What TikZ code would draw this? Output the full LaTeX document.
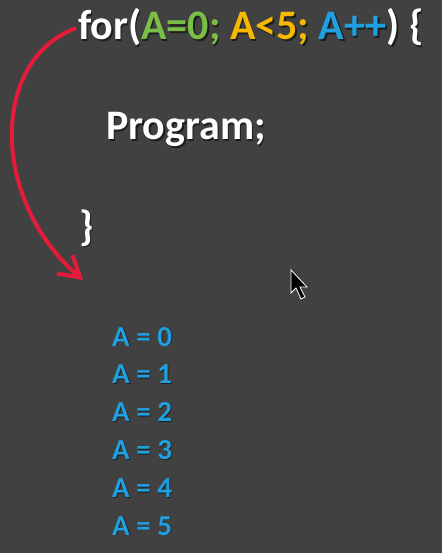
\documentclass[tikz,border=0pt]{standalone}
\usepackage{fontspec}
\setmainfont{Carlito}
\usetikzlibrary{arrows.meta}
\definecolor{bg}{RGB}{65,65,65}
\definecolor{cgreen}{RGB}{122,190,70}
\definecolor{corange}{RGB}{247,184,0}
\definecolor{cblue}{RGB}{30,160,225}
\definecolor{cred}{RGB}{228,28,58}
\definecolor{shade}{RGB}{30,30,30}
\tikzset{
  big/.style={anchor=base west, inner sep=0pt, font=\bfseries\fontsize{42bp}{50bp}\selectfont, text=white},
  small/.style={anchor=base west, inner sep=0pt, font=\bfseries\fontsize{29bp}{34bp}\selectfont, text=cblue},
  loopline/.style={draw=cred, line width=4bp, -{Straight Barb[length=20bp,width=24bp]}}
}
\begin{document}
\begin{tikzpicture}[x=1bp,y=-1bp]
\fill[bg] (0,0) rectangle (442,553);
\useasboundingbox (0,0) rectangle (442,553);
% shadows
\node[big,text=shade] at (79.5,41.5) {for(A=0; A<5; A++) \{};
\node[big,text=shade] at (107.5,141.5) {Program;};
\node[big,text=shade] at (80.5,241.5) {\}};
% main text
\node[big] (for) at (78,40) {for(\textcolor{cgreen}{A=0;} \textcolor{corange}{A<5;} \textcolor{cblue}{A++}) \{};
\node[big] (prog) at (106,140) {Program;};
\node[big] (close) at (79,240) {\}};
\coordinate (start) at (76,28);
\coordinate (tip) at (83,280);
\draw[loopline] (start) .. controls (-10,60) and (-10,200) .. (tip);
% output list
\foreach \v [count=\i from 0] in {0,1,2,3,4,5}{
  \node[small,text=shade] at (112.8,346.8+37.8*\i) {A = \v};
  \node[small] (out\v) at (112,346+37.8*\i) {A = \v};
}
% mouse cursor
\filldraw[fill=black, draw=white, line width=0.8bp, line join=miter]
  (291,270) -- (291,293) -- (296,288) -- (301,299) -- (305,297) -- (300,287) -- (307,287) -- cycle;
\end{tikzpicture}
\end{document}
